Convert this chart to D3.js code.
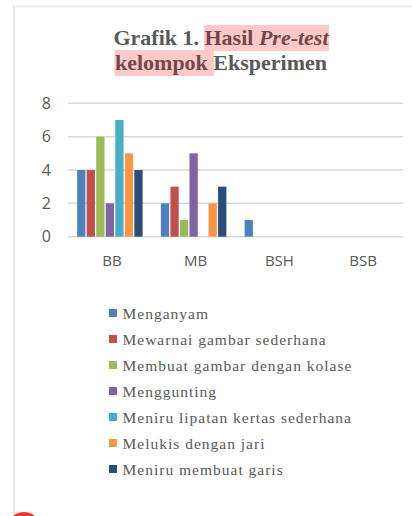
<!DOCTYPE html>
<html>
<head>
<meta charset="utf-8">
<script src="https://cdn.jsdelivr.net/npm/d3@7"></script>
<style>
  html, body { margin: 0; padding: 0; background: #fff; }
  svg { display: block; }
  svg text { white-space: pre; }
</style>
</head>
<body>
<svg id="chart" width="412" height="516"></svg>
<script>
const categories = ["BB", "MB", "BSH", "BSB"];
const seriesNames = [
  "Menganyam",
  "Mewarnai gambar sederhana",
  "Membuat gambar dengan kolase",
  "Menggunting",
  "Meniru lipatan kertas sederhana",
  "Melukis dengan jari",
  "Meniru membuat garis"
];
const menganyam   = [4, 2, 1, 0];
const mewarnai    = [4, 3, 0, 0];
const kolase      = [6, 1, 0, 0];
const menggunting = [2, 5, 0, 0];
const lipatan     = [7, 0, 0, 0];
const melukis     = [5, 2, 0, 0];
const garis       = [4, 3, 0, 0];
const seriesValues = [menganyam, mewarnai, kolase, menggunting, lipatan, melukis, garis];
const yTicks = [0, 2, 4, 6, 8];
const colors = ["#4F81BD", "#C0504D", "#9BBB59", "#8064A2", "#4BACC6", "#F79646", "#2C4D75"];

const svg = d3.select("#chart");

// outer frame (page edge lines)
svg.append("line").attr("x1", 14).attr("x2", 14).attr("y1", 6).attr("y2", 516)
  .attr("stroke", "#e4e4e4").attr("stroke-width", 2);
svg.append("line").attr("x1", 13).attr("x2", 412).attr("y1", 6.5).attr("y2", 6.5)
  .attr("stroke", "#ececec").attr("stroke-width", 2);
svg.append("ellipse").attr("cx", 24).attr("cy", 518).attr("rx", 11).attr("ry", 6)
  .attr("fill", "#f03535");

// Title
const titleFont = "'Liberation Serif', 'Times New Roman', serif";
const titleSize = 22;
const titleLines = [
  [{t: "Grafik 1. ", hl: false, it: false}, {t: "Hasil ", hl: true, it: false}, {t: "Pre-test", hl: true, it: true}],
  [{t: "kelompok ", hl: true, it: false}, {t: "Eksperimen", hl: false, it: false}]
];
const titleG = svg.append("g");
const measure = svg.append("text").attr("font-family", titleFont).attr("font-size", titleSize)
  .attr("font-weight", "bold").attr("visibility", "hidden");
const lineBaselines = [45, 70];
titleLines.forEach((segs, li) => {
  const widths = segs.map(s => {
    measure.attr("font-style", s.it ? "italic" : "normal").text(s.t);
    return measure.node().getComputedTextLength();
  });
  const total = d3.sum(widths);
  let x = 221 - total / 2;
  const lg = titleG.append("g");
  segs.forEach((s, i) => {
    if (s.hl) {
      let w = widths[i];
      lg.insert("rect", ":first-child").attr("x", x - 0.5).attr("y", lineBaselines[li] - 20)
        .attr("width", w + 1).attr("height", 26).attr("fill", "#ffc9c9");
    }
    lg.append("text").attr("x", x).attr("y", lineBaselines[li])
      .attr("font-family", titleFont).attr("font-size", titleSize).attr("font-weight", "bold")
      .attr("font-style", s.it ? "italic" : "normal")
      .attr("fill", s.hl ? "#6e4a4a" : "#595959")
      .text(s.t);
    x += widths[i];
  });
});
measure.remove();

// Scales
const x0 = d3.scaleBand().domain(categories).range([68, 403]).paddingInner(0).paddingOuter(0);
const x1 = d3.scaleBand().domain(seriesNames).range([8.5, x0.bandwidth() - 8.5]).paddingInner(0.13).paddingOuter(0.065);
const y = d3.scaleLinear().domain([0, 8]).range([236.7, 103.3]);

// Gridlines
svg.append("g").selectAll("line").data(yTicks).join("line")
  .attr("x1", 68).attr("x2", 403)
  .attr("y1", d => y(d)).attr("y2", d => y(d))
  .attr("stroke", "#d9d9d9").attr("stroke-width", 1.5);

// Y axis labels
const axisFont = "'Open Sans', 'Liberation Sans', sans-serif";
const yAxis = d3.axisLeft(y).tickValues(yTicks).tickSize(0).tickPadding(0).tickFormat(d3.format("d"));
const yg = svg.append("g").attr("transform", "translate(51,0)").call(yAxis);
yg.select(".domain").remove();
yg.selectAll("text").attr("font-family", axisFont).attr("font-size", 16).attr("fill", "#595959");

// X axis labels
const xAxis = d3.axisBottom(x0).tickSize(0).tickPadding(0);
const xg = svg.append("g").attr("transform", "translate(2,255)").call(xAxis);
xg.select(".domain").remove();
xg.selectAll("text").attr("font-family", axisFont).attr("font-size", 15).attr("fill", "#595959");

// Bars
const groups = svg.append("g").selectAll("g").data(categories).join("g")
  .attr("transform", d => `translate(${x0(d)},0)`);
groups.selectAll("rect")
  .data((c, ci) => seriesNames.map((s, si) => ({s, si, v: seriesValues[si][ci]})).filter(d => d.v > 0))
  .join("rect")
  .attr("x", d => x1(d.s))
  .attr("width", x1.bandwidth())
  .attr("y", d => y(d.v))
  .attr("height", d => y(0) - y(d.v))
  .attr("fill", d => colors[d.si]);

// Legend
const legendFont = "'Liberation Serif', 'Times New Roman', serif";
const lg = svg.append("g").selectAll("g").data(seriesNames).join("g")
  .attr("transform", (d, i) => `translate(109,${319 + i * 26})`);
lg.append("rect").attr("x", 0).attr("y", -10).attr("width", 8).attr("height", 8)
  .attr("fill", (d, i) => colors[i]);
lg.append("text").attr("x", 13.5).attr("y", 0)
  .attr("font-family", legendFont).attr("font-size", 15.5).attr("fill", "#595959")
  .attr("letter-spacing", 1.0)
  .text(d => d);
</script>
</body>
</html>
